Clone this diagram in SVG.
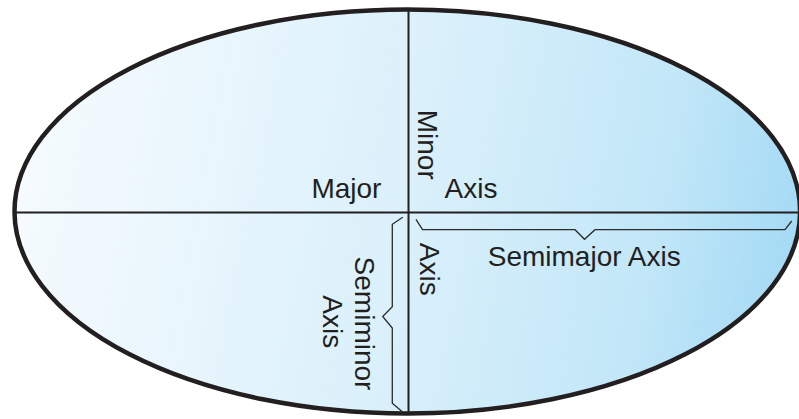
<svg xmlns="http://www.w3.org/2000/svg" width="799" height="419" viewBox="0 0 799 419">
  <style>
    .lbl { font-family: "Liberation Sans", Arial, sans-serif; font-size: 28px; fill: #231f20; }
    .axis { stroke: #231f20; stroke-width: 2; fill: none; }
    .brace { stroke: #2b2b2b; stroke-width: 1.3; fill: none; stroke-linejoin: miter; }
  </style>
  <defs>
    <linearGradient id="fill" gradientUnits="userSpaceOnUse" x1="14" y1="150" x2="800" y2="300">
      <stop offset="0" stop-color="#f6fbfe"/>
      <stop offset="0.5" stop-color="#daf0fb"/>
      <stop offset="0.8" stop-color="#c2e7f8"/>
      <stop offset="1" stop-color="#a2d9f5"/>
    </linearGradient>
  </defs>
  <g id="ellipse">
    <ellipse cx="407.3" cy="211.5" rx="392.8" ry="202" fill="url(#fill)" stroke="#231f20" stroke-width="4.5"/>
  </g>
  <g id="connectors">
    <line class="axis" x1="14" y1="212.5" x2="799" y2="212.5"/>
    <line class="axis" x1="408.5" y1="9" x2="408.5" y2="414"/>
    <path class="brace" d="M416,219.3 L422.5,229.7 L575,229.7 L584.5,239.3 L595,229.7 L785,229.7 L791.7,221"/>
    <path class="brace" d="M402.7,217.3 L392.3,224.3 L392.3,306.7 L382.7,316.5 L392.3,328 L392.3,403.3 L402.3,411.7"/>
  </g>
  <g id="labels">
    <text class="lbl" x="346.4" y="197.7" text-anchor="middle">Major</text>
    <text class="lbl" x="471" y="197.7" text-anchor="middle">Axis</text>
    <text class="lbl" x="584.2" y="266" text-anchor="middle">Semimajor Axis</text>
    <text class="lbl" text-anchor="middle" transform="translate(418.3,144.7) rotate(90)">Minor</text>
    <text class="lbl" text-anchor="middle" transform="translate(419.5,269.2) rotate(90)">Axis</text>
    <text class="lbl" text-anchor="middle" transform="translate(354.5,323.5) rotate(90)">Semiminor</text>
    <text class="lbl" text-anchor="middle" transform="translate(322.7,321.7) rotate(90)">Axis</text>
  </g>
</svg>
